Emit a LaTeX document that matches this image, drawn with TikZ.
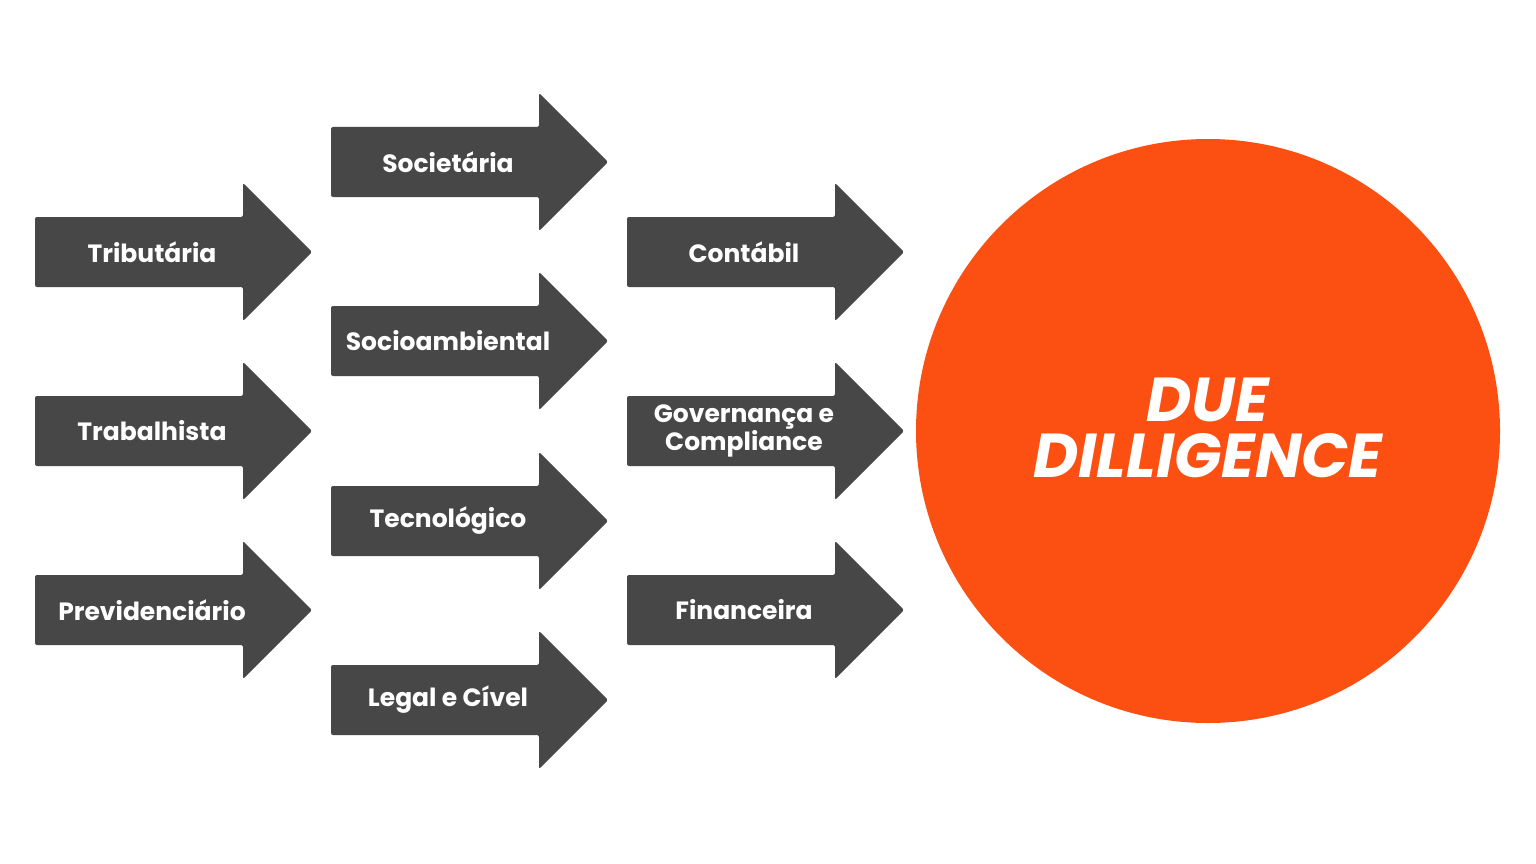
\documentclass[tikz,border=0pt]{standalone}
\usepackage{fontspec}
\setmainfont{Poppins}
\definecolor{arrgray}{HTML}{474747}
\definecolor{duecol}{HTML}{FC5012}
\newcommand{\myarrow}[4]{%
  \fill[arrgray,rounded corners=2pt] (#2,#3-35) -- (#2+208,#3-35) -- (#2+208,#3-69) -- (#2+277,#3) -- (#2+208,#3+69) -- (#2+208,#3+35) -- (#2,#3+35) -- cycle;
  \node[lbl] (#1) at (#2+117,#3) {#4};}
\begin{document}
\begin{tikzpicture}[x=1pt,y=-1pt,
  lbl/.style={text=white,font=\bfseries\fontsize{25}{24}\selectfont,align=center}]
\useasboundingbox (0,0) rectangle (1536,864);
\fill[white] (0,0) rectangle (1536,864);
\myarrow{trib}{35}{252}{Tributária}
\myarrow{trab}{35}{431}{Trabalhista}
\myarrow{prev}{35}{610}{Previdenciário}
\myarrow{soc}{331}{162}{Societária}
\myarrow{socio}{331}{341}{Socioambiental}
\myarrow{tec}{331}{521}{Tecnológico}
\myarrow{leg}{331}{700}{Legal e Cível}
\myarrow{cont}{627}{252}{Contábil}
\myarrow{gov}{627}{431}{Governança e\\Compliance}
\myarrow{fin}{627}{610}{Financeira}
\fill[duecol] (1208,431) circle (292);
\node[text=white,font=\bfseries\itshape\fontsize{62}{56}\selectfont,align=center] (due) at (1208,428) {DUE\\DILLIGENCE};
\end{tikzpicture}
\end{document}
